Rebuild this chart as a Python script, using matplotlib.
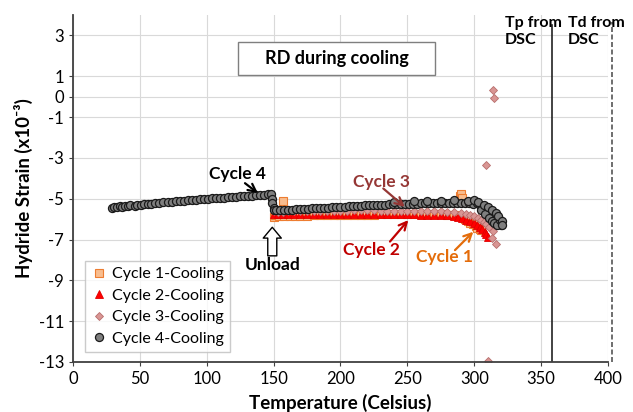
import numpy as np
import matplotlib
matplotlib.use("Agg")
import matplotlib.pyplot as plt
from matplotlib.patches import Rectangle

plt.rcParams['font.family'] = ['Lato', 'DejaVu Sans']
plt.rcParams['axes.unicode_minus'] = False

# Cycle 1 - cooling (orange squares)
c1_T = [150, 151, 154, 157, 158, 162, 166, 170, 175, 180, 185, 190, 195, 200, 205, 210, 215,
        220, 225, 230, 235, 240, 245, 250, 255, 260, 265, 270, 275, 280, 285, 288, 289, 290,
        291, 293, 295, 297, 299, 301, 302, 304, 305]
c1_s = [-5.90, -5.80, -5.85, -5.10, -5.85, -5.85, -5.84, -5.84, -5.83, -5.82, -5.82, -5.81, -5.81,
        -5.80, -5.80, -5.79, -5.79, -5.78, -5.78, -5.77, -5.77, -5.77, -5.76, -5.76, -5.76, -5.75,
        -5.75, -5.75, -5.76, -5.78, -5.80, -5.85, -4.85, -4.75, -4.95, -6.00, -6.10, -6.20, -6.25,
        -6.35, -6.42, -6.48, -6.55]

# Cycle 2 - cooling (red triangles)
c2_T = [150, 153, 157, 161, 165, 170, 175, 180, 185, 190, 195, 200, 205, 210, 215, 220, 225,
        230, 235, 240, 245, 250, 255, 260, 265, 270, 275, 280, 285, 288, 291, 294, 297, 300,
        302, 304, 306, 308, 309, 310]
c2_s = [-5.75, -5.77, -5.77, -5.76, -5.76, -5.75, -5.75, -5.75, -5.74, -5.74, -5.74, -5.73, -5.73,
        -5.73, -5.73, -5.73, -5.73, -5.73, -5.74, -5.75, -5.75, -5.77, -5.77, -5.78, -5.78, -5.79,
        -5.80, -5.82, -5.85, -5.90, -5.95, -6.03, -6.10, -6.20, -6.28, -6.38, -6.48, -6.62, -6.75,
        -6.88]

# Cycle 3 - cooling (pink diamonds)
c3_T = [150, 153, 157, 161, 165, 170, 175, 180, 185, 190, 195, 200, 205, 210, 215, 220, 225,
        230, 235, 240, 245, 250, 255, 260, 265, 270, 275, 280, 285, 290, 294, 297, 300, 303,
        305, 307, 309, 311, 313, 314, 315, 309, 310, 314, 316]
c3_s = [-5.62, -5.64, -5.63, -5.62, -5.62, -5.61, -5.61, -5.60, -5.60, -5.59, -5.59, -5.58, -5.58,
        -5.57, -5.57, -5.57, -5.57, -5.58, -5.58, -5.58, -5.59, -5.59, -5.60, -5.60, -5.60, -5.61,
        -5.62, -5.64, -5.66, -5.70, -5.74, -5.80, -5.87, -5.94, -6.02, -6.12, -6.22, -6.37, -6.95,
        0.34, -0.05, -3.36, -12.93, -6.60, -7.22]

# Cycle 4 - cooling (grey circles)
c4_T = [29, 31, 33, 35, 37, 39, 41, 43, 46, 48, 51, 53, 56, 58, 61, 64, 67, 71, 74, 77, 80, 83,
        86, 89, 92, 95, 98, 101, 104, 107, 110, 113, 116, 119, 122, 125, 128, 131, 134, 137, 140,
        143, 146, 148, 149, 149, 150, 150, 152, 155, 158, 161, 164, 167, 170, 173, 176, 179, 182,
        185, 188, 191, 194, 197, 200, 203, 206, 209, 212, 215, 218, 221, 224, 227, 230, 233, 236,
        239, 242, 245, 248, 251, 254, 257, 260, 263, 266, 269, 272, 275, 278, 281, 284, 287, 290,
        293, 296, 299, 302, 304, 306, 308, 310, 312, 314, 316, 317, 318, 319, 320, 305, 308, 311,
        313, 315, 317, 319,
        240, 255, 265, 275, 285, 295, 300, 303, 307, 310, 313, 316, 318, 321, 321]
c4_s = [-5.45, -5.40, -5.42, -5.38, -5.40, -5.36, -5.37, -5.33, -5.34, -5.30, -5.29, -5.26, -5.27,
        -5.24, -5.22, -5.23, -5.15, -5.16, -5.14, -5.12, -5.11, -5.09, -5.08, -5.06, -5.05, -5.03,
        -5.02, -5.00, -4.99, -4.98, -4.96, -4.95, -4.93, -4.92, -4.90, -4.89, -4.88, -4.86, -4.85,
        -4.84, -4.82, -4.81, -4.79, -4.75, -5.00, -5.20, -5.45, -5.55, -5.55, -5.56, -5.55, -5.54,
        -5.53, -5.52, -5.52, -5.50, -5.50, -5.48, -5.47, -5.46, -5.46, -5.44, -5.43, -5.42, -5.40,
        -5.39, -5.38, -5.37, -5.35, -5.35, -5.33, -5.32, -5.31, -5.30, -5.30, -5.29, -5.28, -5.27,
        -5.27, -5.26, -5.25, -5.25, -5.24, -5.24, -5.23, -5.23, -5.22, -5.22, -5.22, -5.21, -5.21,
        -5.22, -5.22, -5.21, -5.22, -5.23, -5.22, -5.24, -5.20, -5.30, -5.40, -5.50, -5.60, -5.75,
        -5.85, -5.95, -6.05, -6.15, -6.25, -6.30, -5.55, -5.75, -5.95, -6.10, -6.20, -6.30, -6.05,
        -5.15, -5.12, -5.10, -5.10, -5.08, -5.10, -5.05, -5.15, -5.30, -5.40, -5.55, -5.70, -5.85,
        -6.10, -6.30]

x_ticks = [0, 50, 100, 150, 200, 250, 300, 350, 400]
y_ticks = [3, 1, 0, -1, -3, -5, -7, -9, -11, -13]
tp_dsc = 358
td_dsc = 403

fig = plt.figure(figsize=(6.33, 4.12), dpi=100)
ax = fig.add_axes([0.1153, 0.1214, 0.8452, 0.8422])

ax.plot(c1_T, c1_s, 's', ms=5.5, mfc='#F8BD8F', mec='#ED7D31', mew=0.8, label='Cycle 1-Cooling')
ax.plot(c2_T, c2_s, '^', ms=5.5, mfc='#FF0000', mec='#E00000', mew=0.6, label='Cycle 2-Cooling')
ax.plot(c3_T, c3_s, 'D', ms=4.2, mfc='#D99694', mec='#B76E6C', mew=0.6, label='Cycle 3-Cooling')
ax.plot(c4_T, c4_s, 'o', ms=5.8, mfc='#7F7F7F', mec='#1A1A1A', mew=0.9, label='Cycle 4-Cooling')

# DSC lines
ax.plot([tp_dsc, tp_dsc], [-13, 3.5], color='#222222', lw=1.2)
ax.plot([td_dsc, td_dsc], [-13, 3.65], color='#555555', lw=1.2, ls=(0, (3, 1.5)), clip_on=False)
ax.text(323, 3.2, 'Tp from\nDSC', fontsize=11.5, fontweight='bold', va='center', ha='left',
        linespacing=1.3)
ax.text(370, 3.2, 'Td from\nDSC', fontsize=11.5, fontweight='bold', va='center', ha='left',
        linespacing=1.3, clip_on=False)

# title box
ax.add_patch(Rectangle((123, 1.04), 148, 1.62, fill=True, fc='white', ec='#7F7F7F', lw=1, zorder=3))
ax.text(197, 1.85, 'RD during cooling', fontsize=13, fontweight='bold', ha='center', va='center',
        zorder=4)

# annotations: (label, colour, text pos, arrow start, arrow end)
notes = [
    ('Cycle 4', 'black', (122.6, -3.8), (128.6, -4.24), (138.3, -4.73)),
    ('Cycle 3', '#953735', (230.8, -4.18), (232, -4.5), (248, -5.4)),
    ('Cycle 2', '#C00000', (223.3, -7.52), (237, -7.1), (250.7, -6.05)),
    ('Cycle 1', '#E46C0A', (278, -7.86), (285.6, -7.52), (299.3, -6.62)),
]
for label, col, tpos, a0, a1 in notes:
    ax.text(tpos[0], tpos[1], label, fontsize=12.5, fontweight='bold', color=col,
            ha='center', va='center', zorder=10)
    ax.annotate('', xy=a1, xytext=a0, zorder=10,
                arrowprops=dict(arrowstyle='->', color=col, lw=1.6, shrinkA=0, shrinkB=0,
                                mutation_scale=14))

# unload block arrow
ax.annotate('', xy=(149, -6.4), xytext=(149, -7.8),
            arrowprops=dict(arrowstyle='simple,head_length=0.6,head_width=1.0,tail_width=0.5',
                            fc='white', ec='black', lw=1, mutation_scale=13, shrinkA=0, shrinkB=0))
ax.text(149, -8.25, 'Unload', fontsize=12.5, fontweight='bold', ha='center', va='center')

ax.set_xlim(0, 400)
ax.set_ylim(-13, 4)
ax.set_xticks(x_ticks)
ax.set_yticks(y_ticks)
ax.grid(True, color='#D9D9D9', lw=0.8)
ax.set_axisbelow(True)
for s in ['top', 'right']:
    ax.spines[s].set_visible(False)
for s in ['left', 'bottom']:
    ax.spines[s].set_color('#404040')
    ax.spines[s].set_linewidth(1.3)
ax.tick_params(axis='both', labelsize=12, length=3, color='#404040', direction='out')
ax.set_xlabel('Temperature (Celsius)', fontsize=13.5, fontweight='bold', labelpad=5)
ax.set_ylabel('Hydride Strain (x10⁻³)', fontsize=13.5, fontweight='bold', labelpad=4)

leg = ax.legend(loc='lower left', bbox_to_anchor=(0.022, 0.029), fontsize=11.5, frameon=True,
                fancybox=False, edgecolor='#BFBFBF', handletextpad=0.3, labelspacing=0.45,
                handlelength=1.0, borderaxespad=0)
leg.get_frame().set_linewidth(1)

fig.savefig('out.png', dpi=100)
